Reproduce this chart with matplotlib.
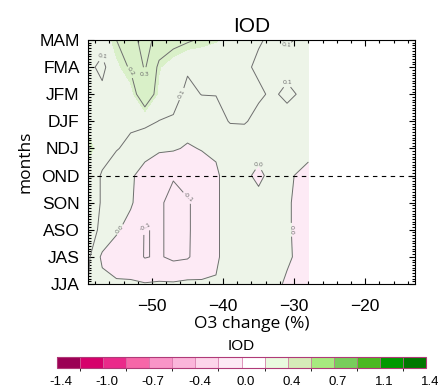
import numpy as np
import matplotlib
matplotlib.use("Agg")
import matplotlib.pyplot as plt
from matplotlib.colors import ListedColormap, BoundaryNorm
from matplotlib.cm import ScalarMappable
from matplotlib.ticker import MultipleLocator
from matplotlib.transforms import ScaledTranslation

# ---- data -------------------------------------------------------------
months = ["JJA", "JAS", "ASO", "SON", "OND", "NDJ", "DJF", "JFM", "FMA", "MAM"]
o3_change = [-59, -57, -55, -53, -51, -49, -47, -45, -43, -41, -39, -37, -35, -33, -31, -28]

# IOD response, one row per 3-month season (JJA ... MAM), one column per O3 change
iod_jja = [0.10, 0.03, 0.01, 0.01, 0.005, 0.01, 0.01, 0.02, 0.01, 0.005, 0.03, 0.04, 0.03, 0.02, -0.01, -0.02]
iod_jas = [0.12, -0.02, -0.04, -0.05, -0.105, -0.09, -0.12, -0.11, -0.05, -0.01, 0.03, 0.04, 0.02, 0.03, 0.01, -0.03]
iod_aso = [0.12, 0.09, 0.01, -0.03, -0.105, -0.09, -0.12, -0.11, -0.06, -0.01, 0.03, 0.05, 0.03, 0.04, 0.01, -0.04]
iod_son = [0.13, 0.095, 0.04, 0.01, -0.05, -0.09, -0.12, -0.11, -0.06, -0.01, 0.03, 0.04, 0.03, 0.03, 0.01, -0.04]
iod_ond = [0.13, 0.095, 0.05, 0.015, -0.04, -0.08, -0.095, -0.06, -0.05, -0.01, 0.03, 0.02, -0.02, 0.03, 0.01, -0.02]
iod_ndj = [0.21, 0.12, 0.105, 0.08, 0.04, 0.015, 0.01, -0.01, 0.005, 0.01, 0.04, 0.05, 0.03, 0.04, 0.03, 0.02]
iod_djf = [0.14, 0.13, 0.12, 0.115, 0.12, 0.098, 0.09, 0.04, 0.04, 0.07, 0.105, 0.106, 0.08, 0.07, 0.07, 0.06]
iod_jfm = [0.13, 0.12, 0.14, 0.15, 0.27, 0.16, 0.13, 0.08, 0.102, 0.102, 0.12, 0.12, 0.11, 0.09, 0.115, 0.08]
iod_fma = [0.12, 0.08, 0.16, 0.21, 0.31, 0.18, 0.14, 0.11, 0.13, 0.12, 0.12, 0.11, 0.09, 0.08, 0.08, 0.07]
iod_mam = [0.12, 0.13, 0.20, 0.26, 0.34, 0.26, 0.23, 0.21, 0.19, 0.18, 0.15, 0.13, 0.105, 0.09, 0.105, 0.09]

cbar_ticks = [-1.4, -1.05, -0.7, -0.35, 0.0, 0.35, 0.7, 1.05, 1.4]
cbar_ticklabels = ["-1.4", "-1.0", "-0.7", "-0.4", "0.0", "0.4", "0.7", "1.1", "1.4"]

# ---- styling ----------------------------------------------------------
fill_levels = np.linspace(-1.4, 1.4, 17)
line_levels = [-0.3, -0.2, -0.1, 0.0, 0.1, 0.2, 0.3]
# label-bar colours
legend_colors = ["#9c0055", "#d6006b", "#ea2a8a", "#f666a8", "#f994c7", "#fbb5da",
                 "#fdd5ea", "#fdeaf5", "#ffffff", "#e9fadf", "#d6ebb8", "#a7ea7f",
                 "#78cd5c", "#4cb822", "#009900", "#007800"]
# shading colours used on the map (positive side starts straight in the greens)
map_colors = legend_colors[:8] + ["#edf4e8", "#d9f0c8", "#a7ea7f", "#78cd5c",
                                  "#4cb822", "#009900", "#007800", "#006000"]
norm = BoundaryNorm(fill_levels, len(legend_colors))

tick_font = "Liberation Sans"
label_font = "Open Sans"

field = np.array([iod_jja, iod_jas, iod_aso, iod_son, iod_ond,
                  iod_ndj, iod_djf, iod_jfm, iod_fma, iod_mam])
X, Y = np.meshgrid(o3_change, np.arange(len(months)))

fig = plt.figure(figsize=(4.38, 3.87), dpi=100)
ax = fig.add_axes([88 / 438, 1 - 284 / 387, (415 - 88) / 438, (284 - 40) / 387])

ax.contourf(X, Y, field, levels=fill_levels, cmap=ListedColormap(map_colors), norm=norm)
cl = ax.contour(X, Y, field, levels=line_levels, colors="#6e6e6e", linewidths=0.7,
                negative_linestyles="solid")
ax.clabel(cl, fmt="%.1f", fontsize=4.5, colors="#6e6e6e", inline=True, inline_spacing=2)

ax.axhline(months.index("OND"), color="black", lw=0.8, ls=(0, (4, 4)))

ax.set_xlim(-59, -13)
ax.set_ylim(0, len(months) - 1)
ax.set_xticks([-50, -40, -30, -20])
ax.xaxis.set_minor_locator(MultipleLocator(2))
ax.set_yticks(np.arange(len(months)))
ax.set_yticklabels(months)
ax.yaxis.set_minor_locator(MultipleLocator(0.1))
ax.tick_params(which="both", direction="in", top=True, right=True, width=0.8)
ax.tick_params(which="major", length=4, labelsize=12.5)
ax.tick_params(axis="x", which="major", pad=11)
ax.tick_params(axis="y", which="major", pad=6)
ax.tick_params(which="minor", length=2)
for lab in ax.get_xticklabels() + ax.get_yticklabels():
    lab.set_fontfamily(tick_font)
for sp in ax.spines.values():
    sp.set_linewidth(0.8)

ax.set_title("IOD", fontsize=15, fontfamily=tick_font, pad=6)
ax.set_xlabel("O3 change (%)", fontsize=12.5, fontfamily=label_font, labelpad=1)
ax.set_ylabel("months", fontsize=12.5, fontfamily=label_font, labelpad=4)

cax = fig.add_axes([57 / 438, 19 / 387, (426 - 57) / 438, 11 / 387])
sm = ScalarMappable(norm=norm, cmap=ListedColormap(legend_colors))
cb = fig.colorbar(sm, cax=cax, orientation="horizontal", ticks=cbar_ticks, drawedges=True)
cb.ax.set_xticklabels(cbar_ticklabels)
cb.ax.tick_params(length=0, labelsize=9.5, pad=6)
label_shift = ScaledTranslation(4 / 100, 0, fig.dpi_scale_trans)
for lab in cb.ax.get_xticklabels():
    lab.set_fontfamily(tick_font)
    lab.set_transform(lab.get_transform() + label_shift)
cb.outline.set_edgecolor("#b03a78")
cb.outline.set_linewidth(0.8)
cb.dividers.set_color("#d06aa0")
cb.dividers.set_linewidth(0.5)
cb.ax.set_title("IOD", fontsize=11, fontfamily=tick_font, pad=5)

fig.savefig("out.png", dpi=100)
